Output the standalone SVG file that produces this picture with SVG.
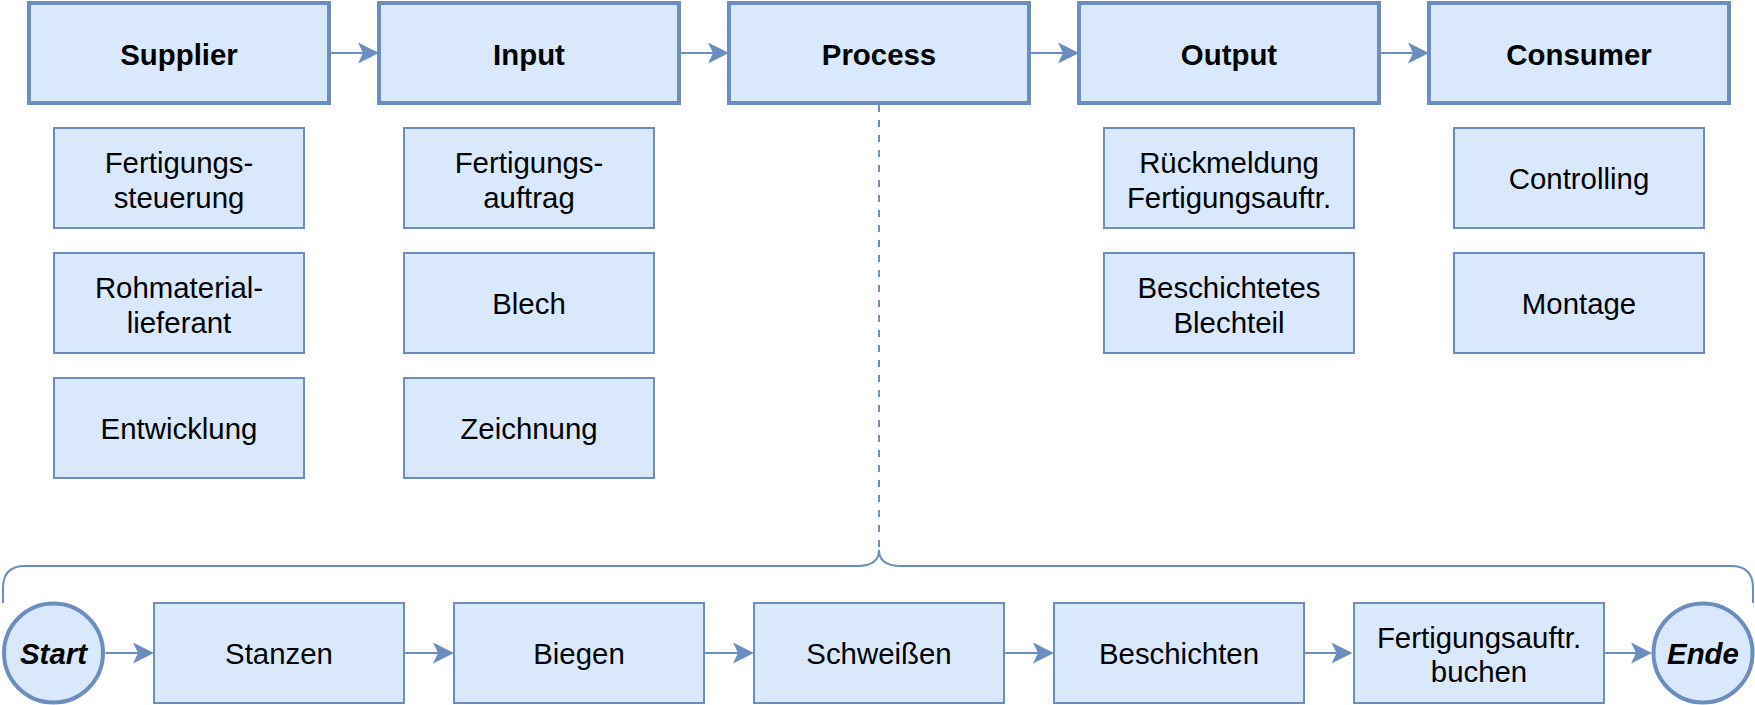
<svg xmlns="http://www.w3.org/2000/svg" width="1755" height="705" viewBox="0 0 1755 705">
<style>
.main{fill:#dae8fc;stroke:#6c8ebf;stroke-width:4}
.sub{fill:#dae8fc;stroke:#6c8ebf;stroke-width:2}
.circ{fill:#dae8fc;stroke:#6c8ebf;stroke-width:4}
.t{font-family:"Liberation Sans",Arial,sans-serif;font-size:29.4px;fill:#000;text-anchor:middle}
.b{font-weight:bold}
.bi{font-weight:bold;font-style:italic}
.c{fill:none;stroke:#6c8ebf;stroke-width:2}
</style>
<defs>
<marker id="arr" viewBox="0 -11 22 22" markerWidth="22" markerHeight="22" refX="5" refY="0" markerUnits="userSpaceOnUse" orient="auto">
<path d="M0,-10.5 L21,0 L0,10.5 L5,0 Z" fill="#6c8ebf" stroke="none"/>
</marker>
</defs>

<g id="connectors">
<line class="c" x1="331" y1="53" x2="363" y2="53" marker-end="url(#arr)"/>
<line class="c" x1="681" y1="53" x2="713" y2="53" marker-end="url(#arr)"/>
<line class="c" x1="1031" y1="53" x2="1063" y2="53" marker-end="url(#arr)"/>
<line class="c" x1="1381" y1="53" x2="1413" y2="53" marker-end="url(#arr)"/>
<line class="c" x1="879" y1="105" x2="879" y2="550" stroke-dasharray="7 8"/>
<path class="c" d="M3,603 V588 Q3,566 25,566 H857 Q879,566 879,550 Q879,566 901,566 H1731 Q1753,566 1753,588 V603"/>
<line class="c" x1="105.5" y1="653" x2="138" y2="653" marker-end="url(#arr)"/>
<line class="c" x1="405" y1="653" x2="438" y2="653" marker-end="url(#arr)"/>
<line class="c" x1="705" y1="653" x2="738" y2="653" marker-end="url(#arr)"/>
<line class="c" x1="1005" y1="653" x2="1038" y2="653" marker-end="url(#arr)"/>
<line class="c" x1="1305" y1="653" x2="1336.5" y2="653" marker-end="url(#arr)"/>
<line class="c" x1="1605" y1="653" x2="1636" y2="653" marker-end="url(#arr)"/>
</g>

<g id="supplier"><rect class="main" x="29" y="3" width="300" height="100"/><text class="t b" x="179" y="64.5">Supplier</text></g>
<g id="input"><rect class="main" x="379" y="3" width="300" height="100"/><text class="t b" x="529" y="64.5">Input</text></g>
<g id="process"><rect class="main" x="729" y="3" width="300" height="100"/><text class="t b" x="879" y="64.5">Process</text></g>
<g id="output"><rect class="main" x="1079" y="3" width="300" height="100"/><text class="t b" x="1229" y="64.5">Output</text></g>
<g id="consumer"><rect class="main" x="1429" y="3" width="300" height="100"/><text class="t b" x="1579" y="64.5">Consumer</text></g>

<g id="fertigungssteuerung"><rect class="sub" x="54" y="128" width="250" height="100"/><text class="t" x="179" y="173"><tspan x="179">Fertigungs-</tspan><tspan x="179" dy="34.5">steuerung</tspan></text></g>
<g id="rohmaterial"><rect class="sub" x="54" y="253" width="250" height="100"/><text class="t" x="179" y="298"><tspan x="179">Rohmaterial-</tspan><tspan x="179" dy="34.5">lieferant</tspan></text></g>
<g id="entwicklung"><rect class="sub" x="54" y="378" width="250" height="100"/><text class="t" x="179" y="439">Entwicklung</text></g>

<g id="fertigungsauftrag"><rect class="sub" x="404" y="128" width="250" height="100"/><text class="t" x="529" y="173"><tspan x="529">Fertigungs-</tspan><tspan x="529" dy="34.5">auftrag</tspan></text></g>
<g id="blech"><rect class="sub" x="404" y="253" width="250" height="100"/><text class="t" x="529" y="314">Blech</text></g>
<g id="zeichnung"><rect class="sub" x="404" y="378" width="250" height="100"/><text class="t" x="529" y="439">Zeichnung</text></g>

<g id="rueckmeldung"><rect class="sub" x="1104" y="128" width="250" height="100"/><text class="t" x="1229" y="173"><tspan x="1229">Rückmeldung</tspan><tspan x="1229" dy="34.5">Fertigungsauftr.</tspan></text></g>
<g id="blechteil"><rect class="sub" x="1104" y="253" width="250" height="100"/><text class="t" x="1229" y="298"><tspan x="1229">Beschichtetes</tspan><tspan x="1229" dy="34.5">Blechteil</tspan></text></g>

<g id="controlling"><rect class="sub" x="1454" y="128" width="250" height="100"/><text class="t" x="1579" y="189">Controlling</text></g>
<g id="montage"><rect class="sub" x="1454" y="253" width="250" height="100"/><text class="t" x="1579" y="314">Montage</text></g>

<g id="start"><circle class="circ" cx="53.5" cy="653" r="49.5"/><text class="t bi" x="53.5" y="663.5">Start</text></g>
<g id="stanzen"><rect class="sub" x="154" y="603" width="250" height="100"/><text class="t" x="279" y="664">Stanzen</text></g>
<g id="biegen"><rect class="sub" x="454" y="603" width="250" height="100"/><text class="t" x="579" y="664">Biegen</text></g>
<g id="schweissen"><rect class="sub" x="754" y="603" width="250" height="100"/><text class="t" x="879" y="664">Schweißen</text></g>
<g id="beschichten"><rect class="sub" x="1054" y="603" width="250" height="100"/><text class="t" x="1179" y="664">Beschichten</text></g>
<g id="buchen"><rect class="sub" x="1354" y="603" width="250" height="100"/><text class="t" x="1479" y="647.5"><tspan x="1479">Fertigungsauftr.</tspan><tspan x="1479" dy="34.5">buchen</tspan></text></g>
<g id="ende"><circle class="circ" cx="1703" cy="653" r="49.5"/><text class="t bi" x="1703" y="663.5">Ende</text></g>
</svg>
